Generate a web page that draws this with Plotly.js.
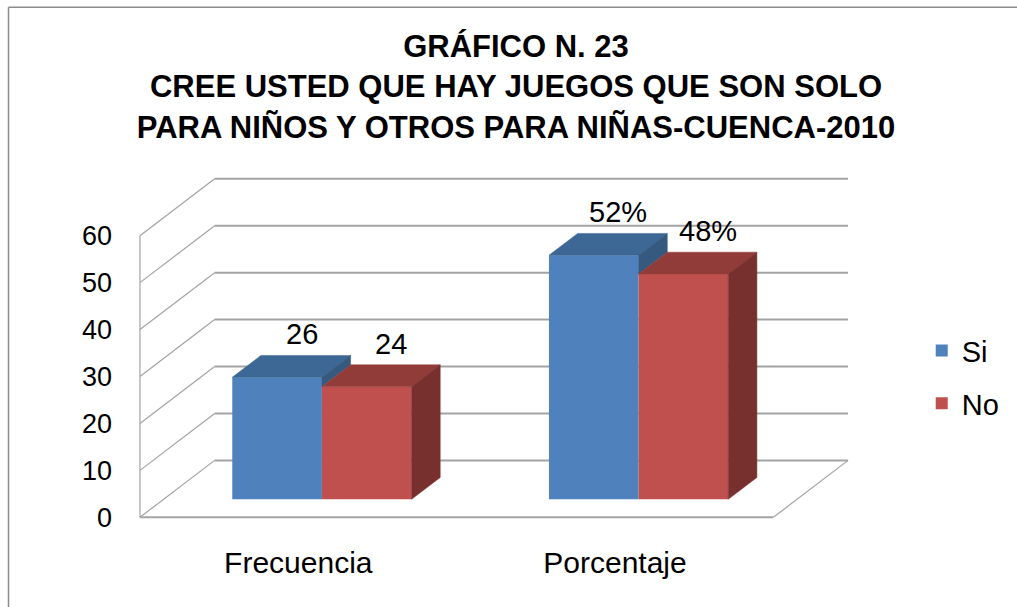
<!DOCTYPE html>
<html>
<head>
<meta charset="utf-8">
<script src="https://cdn.plot.ly/plotly-3.0.1.min.js"></script>
<style>
  html, body { margin: 0; padding: 0; background: #fff; }
  #chart { width: 1017px; height: 607px; }
</style>
</head>
<body>
<div id="chart"></div>
<script>
// ---- data ----
const categories = ['Frecuencia', 'Porcentaje'];
const seriesNames = ['Si', 'No'];
const siValues = [26, 52];
const noValues = [24, 48];
const labelSuffix = ['', '%'];
const yTicks = [0, 10, 20, 30, 40, 50, 60];

// ---- layout geometry (pixels) ----
const W = 1017, H = 607;
const M = { l: 130, r: 157, t: 170, b: 84.5 };
const plotW = W - M.l - M.r, plotH = H - M.t - M.b;
const pxPerX = 318, pxPerY = 4.7;
const frontLeftPx = 140;
const xMin = -0.5 - (frontLeftPx - M.l) / pxPerX;
const xMax = xMin + plotW / pxPerX;
const yMin = -1, yMax = yMin + plotH / pxPerY;

// 3D depth (wall depth in px) converted to data units
const WDX = 75 / pxPerX, WDY = 57 / pxPerY;
const f1 = 0.316, f2 = 0.70;
const BW = 90 / pxPerX;
const ddx = (f2 - f1) * WDX, ddy = (f2 - f1) * WDY;
const b1x = f1 * WDX, b1y = f1 * WDY;

const colors = {
  Si: { front: '#4f81bd', top: '#3d6794', side: '#35597f' },
  No: { front: '#c0504d', top: '#923c3a', side: '#78302e' }
};
const allValues = [siValues, noValues];
const offsets = [-BW, 0];

const traces = [];
seriesNames.forEach((name, s) => {
  traces.push({
    type: 'bar', name: name, legendgroup: name,
    x: categories.map((c, i) => i),
    y: allValues[s],
    base: b1y,
    offset: offsets[s] + b1x,
    width: BW,
    marker: { color: colors[name].front, line: { width: 0 } },
    hoverinfo: 'skip'
  });
});
seriesNames.forEach((name, s) => {
  const tx = [], ty = [], sx = [], sy = [];
  categories.forEach((c, i) => {
    const v = allValues[s][i];
    const xl = i + offsets[s] + b1x, xr = xl + BW;
    tx.push(xl, xr, xr + ddx, xl + ddx, xl, null);
    ty.push(v + b1y, v + b1y, v + b1y + ddy, v + b1y + ddy, v + b1y, null);
    let lo = 0;
    if (s + 1 < allValues.length) lo = Math.min(allValues[s + 1][i], v);
    sx.push(xr, xr, xr + ddx, xr + ddx, xr, null);
    sy.push(lo + b1y, v + b1y, v + b1y + ddy, lo + b1y + ddy, lo + b1y, null);
  });
  traces.push({ type: 'scatter', mode: 'lines', x: tx, y: ty, fill: 'toself',
    fillcolor: colors[name].top, line: { width: 0.5, color: colors[name].top },
    showlegend: false, hoverinfo: 'skip' });
  traces.push({ type: 'scatter', mode: 'lines', x: sx, y: sy, fill: 'toself',
    fillcolor: colors[name].side, line: { width: 0.5, color: colors[name].side },
    showlegend: false, hoverinfo: 'skip' });
});

const gridColor = '#a3a3a3';
const shapes = [];
yTicks.forEach(t => {
  shapes.push({ type: 'line', layer: 'below', xref: 'x', yref: 'y',
    x0: -0.5 + WDX, y0: t + WDY, x1: 1.5 + WDX, y1: t + WDY,
    line: { color: gridColor, width: 2 } });
  shapes.push({ type: 'line', layer: 'below', xref: 'x', yref: 'y',
    x0: -0.5, y0: t, x1: -0.5 + WDX, y1: t + WDY,
    line: { color: gridColor, width: 1.2 } });
});
const yTop = yTicks[yTicks.length - 1];
shapes.push({ type: 'line', layer: 'below', xref: 'x', yref: 'y',
  x0: -0.5, y0: 0, x1: -0.5, y1: yTop, line: { color: gridColor, width: 1.2 } });
shapes.push({ type: 'line', layer: 'below', xref: 'x', yref: 'y',
  x0: -0.5, y0: 0, x1: 1.5, y1: 0, line: { color: gridColor, width: 2 } });
shapes.push({ type: 'line', layer: 'below', xref: 'x', yref: 'y',
  x0: 1.5, y0: 0, x1: 1.5 + WDX, y1: WDY, line: { color: gridColor, width: 1.2 } });
// outer chart border (left and top edges visible)
shapes.push({ type: 'line', xref: 'paper', yref: 'paper', layer: 'above',
  x0: (8 - M.l) / plotW, x1: (8 - M.l) / plotW,
  y0: -(M.b + 10) / plotH, y1: (H - M.b - 7) / plotH,
  line: { color: '#8c8c8c', width: 1.5 } });
shapes.push({ type: 'line', xref: 'paper', yref: 'paper', layer: 'above',
  x0: (8 - M.l) / plotW, x1: (W + 10 - M.l) / plotW,
  y0: (H - M.b - 7) / plotH, y1: (H - M.b - 7) / plotH,
  line: { color: '#8c8c8c', width: 1.5 } });

const annotations = [];
seriesNames.forEach((name, s) => {
  categories.forEach((c, i) => {
    const v = allValues[s][i];
    const xc = i + offsets[s] + b1x + BW / 2 + ddx;
    annotations.push({ x: xc, y: v + b1y + ddy, xref: 'x', yref: 'y',
      text: v + labelSuffix[i], showarrow: false, xanchor: 'center', yanchor: 'bottom',
      xshift: -4, yshift: 3,
      font: { family: 'Liberation Sans, Arial, sans-serif', size: 29, color: '#000' } });
  });
});

const layout = {
  width: W, height: H,
  margin: M,
  paper_bgcolor: '#fff', plot_bgcolor: 'rgba(0,0,0,0)',
  barmode: 'overlay',
  title: {
    text: 'GRÁFICO N. 23<br>CREE USTED QUE HAY JUEGOS QUE SON SOLO<br>PARA NIÑOS Y OTROS PARA NIÑAS-CUENCA-2010',
    font: { family: 'Liberation Sans, Arial, sans-serif', size: 31, color: '#000', weight: 'bold' },
    xref: 'container', yref: 'container', x: 516 / W, xanchor: 'center',
    y: 1 - 57 / H, yanchor: 'top'
  },
  xaxis: {
    range: [xMin, xMax], tickvals: categories.map((c, i) => i), ticktext: categories,
    showgrid: false, zeroline: false, showline: false, ticks: '',
    ticklabelstandoff: 20,
    tickfont: { family: 'Liberation Sans, Arial, sans-serif', size: 30, color: '#000' },
    fixedrange: true
  },
  yaxis: {
    range: [yMin, yMax], tickvals: yTicks, showgrid: false, zeroline: false,
    showline: false, ticks: '', ticklabelstandoff: 17,
    tickfont: { family: 'Liberation Sans, Arial, sans-serif', size: 27, color: '#000' },
    fixedrange: true
  },
  legend: {
    x: (925 - M.l) / plotW, xanchor: 'left',
    y: (H - M.b - 377.5) / plotH, yanchor: 'middle',
    font: { family: 'Liberation Sans, Arial, sans-serif', size: 29, color: '#000' },
    tracegroupgap: 12, bgcolor: 'rgba(0,0,0,0)'
  },
  shapes: shapes,
  annotations: annotations,
  showlegend: true
};

Plotly.newPlot('chart', traces, layout, { staticPlot: true, displayModeBar: false });
</script>
</body>
</html>
